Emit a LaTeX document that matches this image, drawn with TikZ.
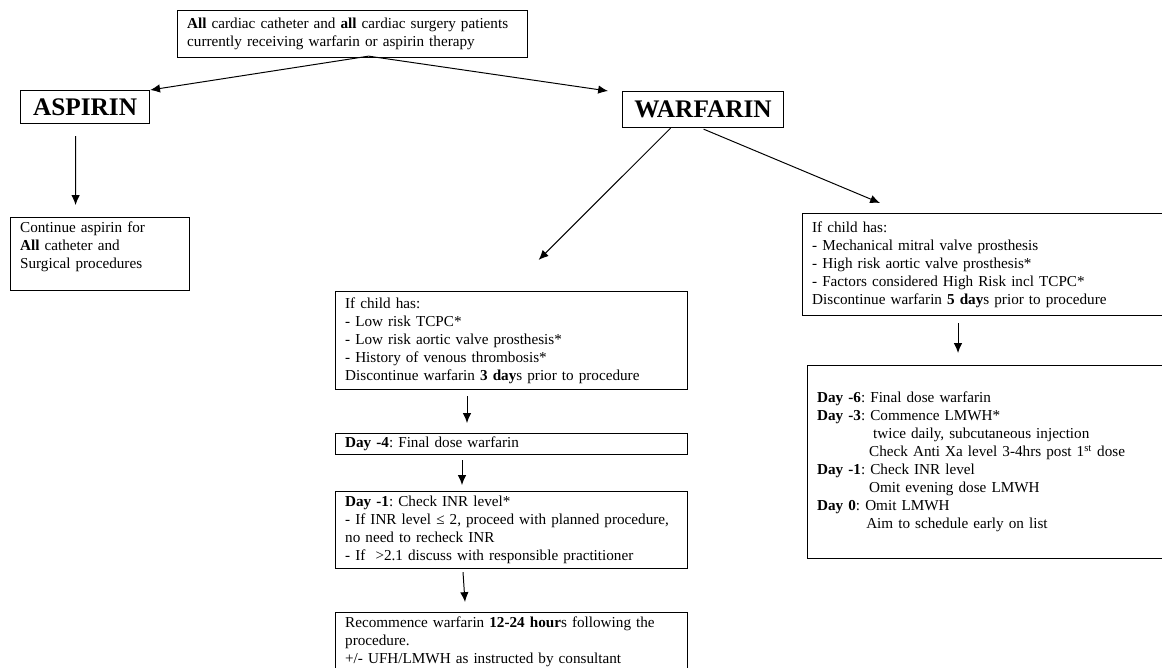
\documentclass[tikz,border=0pt]{standalone}
\usepackage{fontspec}
\setmainfont{Liberation Serif}
\usetikzlibrary{arrows.meta,positioning,calc}
\newcommand{\boxfont}{\fontsize{10.8}{12.8}\selectfont\frenchspacing\hyphenpenalty=10000\relax}
\tikzstyle{infobox} = [rectangle, draw, line width=0.8pt, anchor=north west, align=left, inner xsep=0.24cm, inner ysep=2pt, font=\boxfont]
\tikzstyle{drugbox} = [rectangle, draw, line width=0.8pt, anchor=north west, inner sep=0pt, font=\fontsize{18}{20}\selectfont\bfseries]
\tikzstyle{arrow} = [line width=0.7pt, -{Latex[length=7pt,width=6pt]}]

\begin{document}
\begin{tikzpicture}[x=0.025cm, y=-0.025cm]
\path[use as bounding box, clip] (0,0) rectangle (1162,667);

\node[infobox, text width=8.27cm, minimum height=1.175cm] (top) at (177,10) {\textbf{All} cardiac catheter and \textbf{all} cardiac surgery patients\\currently receiving warfarin or aspirin therapy};
\node[drugbox, minimum width=3.225cm, minimum height=0.825cm] (asp) at (20,90) {ASPIRIN};
\node[drugbox, minimum width=4.025cm, minimum height=0.9cm] (warf) at (622,91) {WARFARIN};

\node[infobox, text width=3.995cm, minimum height=1.825cm] (cont) at (10,217) {Continue aspirin for\\\textbf{All} catheter and\\Surgical procedures\\~};

\node[infobox, text width=8.32cm, minimum height=2.45cm] (m1) at (335,291) {If child has:\\- Low risk TCPC*\\- Low risk aortic valve prosthesis*\\- History of venous thrombosis*\\Discontinue warfarin \textbf{3 day}s prior to procedure};
\node[infobox, text width=8.32cm, minimum height=0.525cm, inner ysep=1pt] (m2) at (335,433) {\textbf{Day -4}: Final dose warfarin};
\node[infobox, text width=8.32cm, minimum height=1.925cm] (m3) at (335,491) {\textbf{Day -1}: Check INR level*\\- If INR level ≤ 2, proceed with planned procedure,\\no need to recheck INR\\- If \ >2.1 discuss with responsible practitioner};
\node[infobox, text width=8.32cm, minimum height=1.45cm] (m4) at (335,612) {Recommence warfarin \textbf{12-24 hour}s following the\\procedure.\\+/- UFH/LMWH as instructed by consultant};

\node[infobox, text width=8.595cm, minimum height=2.55cm] (r1) at (802,213) {If child has:\\- Mechanical mitral valve prosthesis\\- High risk aortic valve prosthesis*\\- Factors considered High Risk incl TCPC*\\Discontinue warfarin \textbf{5 day}s prior to procedure};
\node[infobox, text width=8.47cm, minimum height=4.825cm] (r2) at (807,365) {\textbf{Day -6}: Final dose warfarin\\\textbf{Day -3}: Commence LMWH*\\\hspace*{39.8pt}twice daily, subcutaneous injection\\\hspace*{37pt}Check Anti Xa level 3-4hrs post 1\textsuperscript{st} dose\\\textbf{Day -1}: Check INR level\\\hspace*{37pt}Omit evening dose LMWH\\\textbf{Day 0}: Omit LMWH\\\hspace*{34.9pt}Aim to schedule early on list};

\draw[arrow] ($(top.south)+(16,-2)$) -- (asp.north east);
\draw[arrow] ($(top.south)+(16,-2)$) -- ($(warf.north west)+(-14,0)$);
\draw[arrow] ($(asp.south)+(-9.5,12)$) -- ($(cont.north)+(-24.5,-12)$);
\draw[arrow] ($(warf.south)+(-32.5,0)$) -- ($(m1.north)+(27,-31)$);
\draw[arrow] ($(warf.south)+(0.5,1)$) -- ($(r1.north west)+(78,-10)$);
\draw[arrow] ($(m1.south west)+(132,6)$) -- ($(m2.north west)+(132,-10)$);
\draw[arrow] ($(m2.south west)+(127,5)$) -- ($(m3.north west)+(127,-6)$);
\draw[arrow] ($(m3.south west)+(128,3)$) -- ($(m4.north west)+(130,-10)$);
\draw[arrow] ($(r1.south west)+(156,7)$) -- ($(r2.north west)+(151,-12)$);
\end{tikzpicture}
\end{document}
